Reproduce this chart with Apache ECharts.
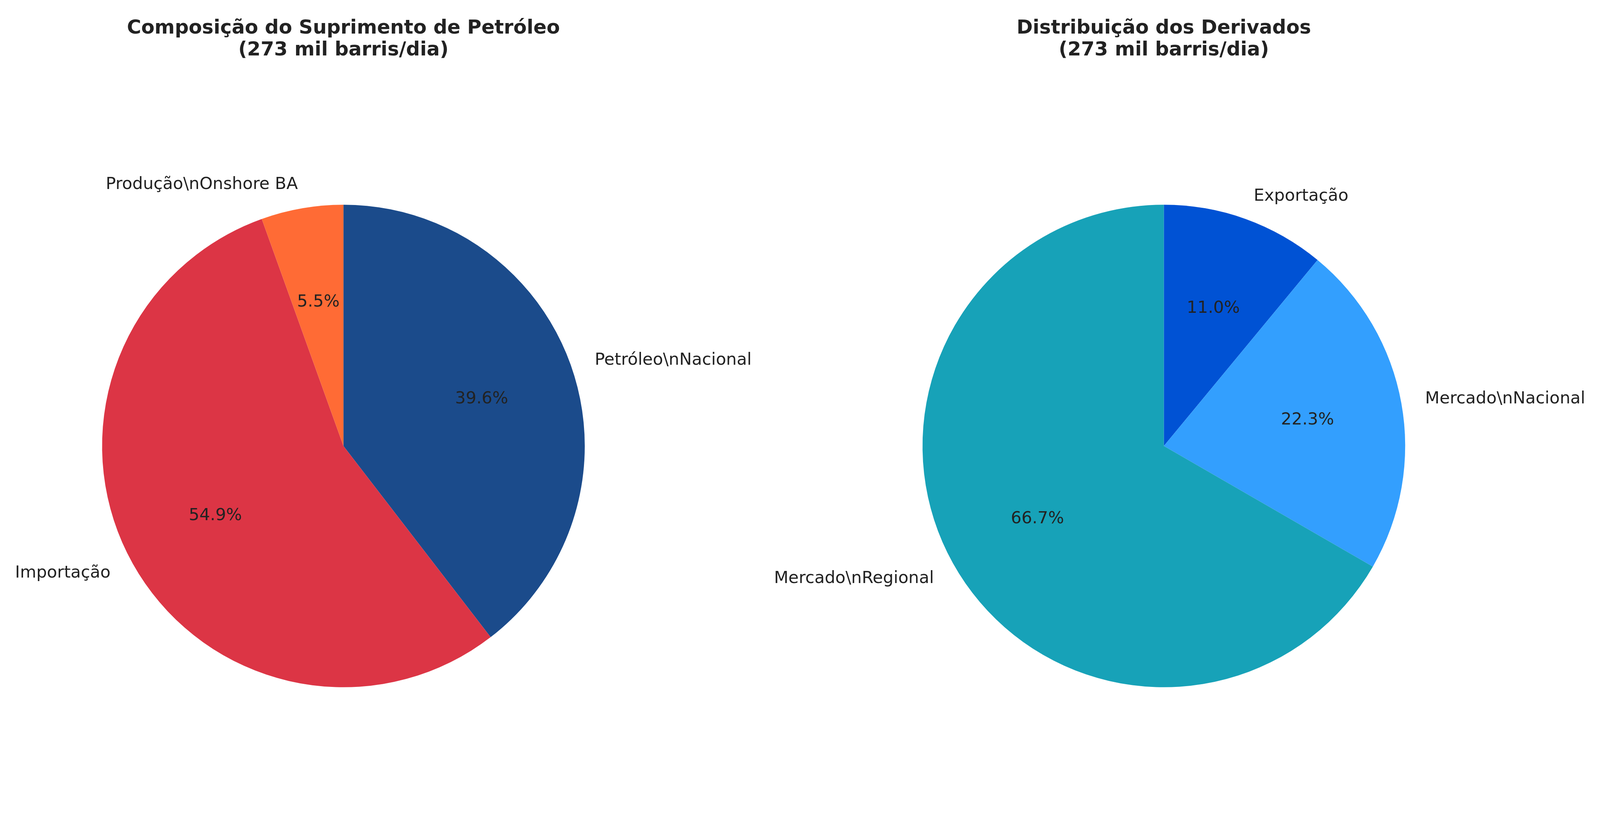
<!DOCTYPE html>
<html>
<head>
<meta charset="utf-8">
<script src="https://cdn.jsdelivr.net/npm/echarts@6/dist/echarts.min.js"></script>
<style>
  html, body { margin: 0; padding: 0; background: #fff; overflow: hidden; }
  #chart { width: 100vw; height: 100vh; }
</style>
</head>
<body>
<div id="chart"></div>
<script>
// the labels really do show a literal "\n" in the picture
const supplyNames = ['Petróleo\\nNacional', 'Importação', 'Produção\\nOnshore BA'];
const supplyValues = [108, 150, 15]; // mil barris/dia
const supplyColors = ['#1b4b8b', '#dc3545', '#ff6b35'];

const productNames = ['Exportação', 'Mercado\\nNacional', 'Mercado\\nRegional'];
const productValues = [30, 61, 182];
const productColors = ['#0052d4', '#339ffe', '#17a2b8'];

const titles = [
  'Composição do Suprimento de Petróleo\n(273 mil barris/dia)',
  'Distribuição dos Derivados\n(273 mil barris/dia)'
];

const FONT = 'DejaVu Sans';
const TEXT = '#222222';

// layout was measured on a 4780x2087 figure, scale it to whatever window we get
const W = window.innerWidth, H = window.innerHeight;
const sx = W / 4780, sy = H / 2087, s = Math.min(sx, sy);
const R = 721 * s;
const CY = 1142 * sy;
const centersX = [1026 * sx, 3477 * sx];

const toData = (names, values, colors) => names.map((n, i) => ({
  name: n, value: values[i], itemStyle: { color: colors[i] }
}));

const pctText = (values) => {
  const total = values.reduce((a, b) => a + b, 0);
  return (p) => (values[p.dataIndex] / total * 100).toFixed(1) + '%';
};

// main wedges + names placed at 1.1 r, like the original
const pieSeries = (data, cx) => ({
  type: 'pie',
  center: [cx, CY],
  radius: [0, R],
  startAngle: 90,
  clockwise: true,
  avoidLabelOverlap: false,
  silent: true,
  itemStyle: { borderWidth: 0 },
  emphasis: { disabled: true },
  label: {
    show: true,
    position: 'outside',
    formatter: '{b}',
    fontFamily: FONT,
    fontSize: 50 * s,
    color: TEXT,
    distanceToLabelLine: 0
  },
  labelLine: { show: false, length: 0.1 * R, length2: 0 },
  data: data
});

// transparent ring, its inside label lands at 0.6 r
const pctSeries = (data, values, cx) => ({
  type: 'pie',
  center: [cx, CY],
  radius: [0.2 * R, R],
  startAngle: 90,
  clockwise: true,
  avoidLabelOverlap: false,
  silent: true,
  itemStyle: { color: 'rgba(0,0,0,0)', borderWidth: 0 },
  emphasis: { disabled: true },
  label: {
    show: true,
    position: 'inside',
    formatter: pctText(values),
    rotate: 0,
    fontFamily: FONT,
    fontSize: 50 * s,
    color: TEXT
  },
  labelLine: { show: false },
  data: data.map(d => ({ name: d.name, value: d.value }))
});

const supplyData = toData(supplyNames, supplyValues, supplyColors);
const productData = toData(productNames, productValues, productColors);

const chart = echarts.init(document.getElementById('chart'), null, { renderer: 'canvas' });
chart.setOption({
  backgroundColor: '#ffffff',
  animation: false,
  title: titles.map((t, i) => ({
    text: t,
    left: centersX[i],
    top: 73 * sy - 33 * s,
    textAlign: 'center',
    padding: 0,
    textStyle: {
      fontFamily: FONT,
      fontSize: 58 * s,
      fontWeight: 'bold',
      color: TEXT,
      lineHeight: 66 * s
    }
  })),
  series: [
    pieSeries(supplyData, centersX[0]),
    pctSeries(supplyData, supplyValues, centersX[0]),
    pieSeries(productData, centersX[1]),
    pctSeries(productData, productValues, centersX[1])
  ]
});
</script>
</body>
</html>
